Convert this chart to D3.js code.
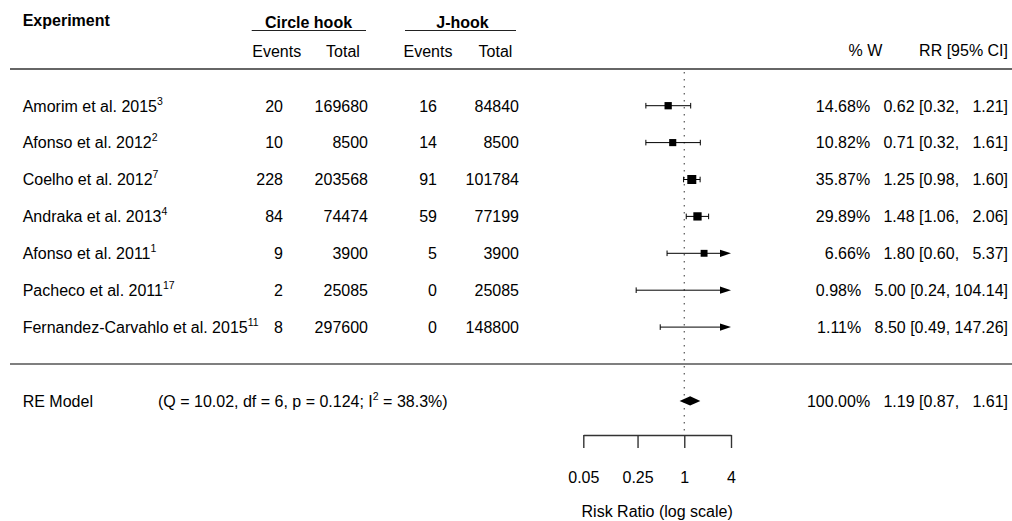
<!DOCTYPE html>
<html>
<head>
<meta charset="utf-8">
<script src="https://cdn.jsdelivr.net/npm/d3@7"></script>
<style>
  body { margin: 0; background: #fff; }
  svg text { font-family: "Liberation Sans", Arial, sans-serif; font-size: 16px; fill: #000; white-space: pre; }
</style>
</head>
<body>
<div id="forest"></div>
<script>
// svg container
var svgWidth = 1012;
var svgHeight = 521;

// study data (top to bottom)
var studies = ["Amorim et al. 2015", "Afonso et al. 2012", "Coelho et al. 2012", "Andraka et al. 2013",
               "Afonso et al. 2011", "Pacheco et al. 2011", "Fernandez-Carvahlo et al. 2015"];
var refs = ["3", "2", "7", "4", "1", "17", "11"];
var circleEvents = [20, 10, 228, 84, 9, 2, 8];
var circleTotal = [169680, 8500, 203568, 74474, 3900, 25085, 297600];
var jEvents = [16, 14, 91, 59, 5, 0, 0];
var jTotal = [84840, 8500, 101784, 77199, 3900, 25085, 148800];
var weights = [14.68, 10.82, 35.87, 29.89, 6.66, 0.98, 1.11];
var rr = [0.62, 0.71, 1.25, 1.48, 1.80, 5.00, 8.50];
var ciLow = [0.32, 0.32, 0.98, 1.06, 0.60, 0.24, 0.49];
var ciHigh = [1.21, 1.61, 1.60, 2.06, 5.37, 104.14, 147.26];

// random effects summary
var reEst = 1.19, reLow = 0.87, reHigh = 1.61, reWeight = 100;
var reQ = "10.02", reDf = "6", reP = "0.124", reI2 = "38.3";

var tickVals = [0.05, 0.25, 1, 4];

var svg = d3.select("#forest")
  .append("svg")
  .attr("width", svgWidth)
  .attr("height", svgHeight);

// scales
var xScale = d3.scaleLog()
  .domain([0.05, 4])
  .range([583.3, 731]);

// metafor-style row numbers: 7..1 for studies, -1 for the summary
var yScale = d3.scaleLinear()
  .domain([7, -1])
  .range([105.7, 400.9]);

var k = studies.length;
var rowOf = function(i) { return k - i; };
var base = 5.8; // text baseline offset from row centre

/////////////// HEADERS /////////////////
svg.append("text").attr("x", 22.7).attr("y", 25.5)
  .style("font-weight", "bold").text("Experiment");

svg.append("text").attr("x", 308.5).attr("y", 28.3).attr("text-anchor", "middle")
  .style("font-weight", "bold").text("Circle hook");
svg.append("text").attr("x", 462.5).attr("y", 28.3).attr("text-anchor", "middle")
  .style("font-weight", "bold").text("J-hook");

svg.append("line").attr("x1", 251.7).attr("x2", 366).attr("y1", 30.5).attr("y2", 30.5)
  .attr("stroke", "#222").attr("stroke-width", 1.2);
svg.append("line").attr("x1", 405).attr("x2", 516).attr("y1", 30.5).attr("y2", 30.5)
  .attr("stroke", "#222").attr("stroke-width", 1.2);

var subHeads = [["Events", 276.7], ["Total", 343], ["Events", 428], ["Total", 495.5]];
subHeads.forEach(function(h) {
  svg.append("text").attr("x", h[1]).attr("y", 56.5).attr("text-anchor", "middle").text(h[0]);
});

svg.append("text").attr("x", 882.3).attr("y", 55.5).attr("text-anchor", "end").text("% W");
svg.append("text").attr("x", 1008).attr("y", 55.5).attr("text-anchor", "end").text("RR [95% CI]");

// separator lines
svg.append("line").attr("x1", 10).attr("x2", svgWidth).attr("y1", 69).attr("y2", 69)
  .attr("stroke", "#333").attr("stroke-width", 1.7);
svg.append("line").attr("x1", 10).attr("x2", svgWidth).attr("y1", yScale(0)).attr("y2", yScale(0))
  .attr("stroke", "#555").attr("stroke-width", 1.7);

// reference line at RR = 1
svg.append("line")
  .attr("x1", xScale(1)).attr("x2", xScale(1))
  .attr("y1", 72).attr("y2", 435)
  .attr("stroke", "#555").attr("stroke-width", 1.2)
  .attr("stroke-dasharray", "1.5,5.5");

/////////////// STUDY ROWS /////////////////
var rows = svg.selectAll("g.study")
  .data(studies)
  .enter()
  .append("g")
  .attr("class", "study");

var labels = rows.append("text")
  .attr("x", 22.7)
  .attr("y", function(d, i) { return yScale(rowOf(i)) + base; });
labels.append("tspan").text(function(d) { return d; });
labels.append("tspan")
  .attr("dy", -7)
  .style("font-size", "10.5px")
  .text(function(d, i) { return refs[i]; });

var cols = [[circleEvents, 283], [circleTotal, 368], [jEvents, 437], [jTotal, 519]];
cols.forEach(function(c) {
  rows.append("text")
    .attr("x", c[1])
    .attr("y", function(d, i) { return yScale(rowOf(i)) + base; })
    .attr("text-anchor", "end")
    .text(function(d, i) { return c[0][i]; });
});

// annotations formatted like metafor (padded, right-aligned)
function pad(arr, extra) {
  var s = arr.concat(extra).map(function(v) { return v.toFixed(2); });
  var w = d3.max(s, function(t) { return t.length; });
  return function(v) { var t = v.toFixed(2); while (t.length < w) t = " " + t; return t; };
}
var fW = pad(weights, []);
var fE = pad(rr, [reEst]);
var fL = pad(ciLow, [reLow]);
var fU = pad(ciHigh, [reHigh]);

function annot(w, e, l, u) {
  return fW(w) + "%   " + fE(e) + " [" + fL(l) + ", " + fU(u) + "]";
}

rows.append("text")
  .attr("x", 1008)
  .attr("y", function(d, i) { return yScale(rowOf(i)) + base; })
  .attr("text-anchor", "end")
  .attr("xml:space", "preserve")
  .text(function(d, i) { return annot(weights[i], rr[i], ciLow[i], ciHigh[i]); });

// box sizes from precision (1/se), as metafor does
var se = rr.map(function(d, i) { return (Math.log(ciHigh[i]) - Math.log(ciLow[i])) / (2 * 1.96); });
var prec = se.map(function(s) { return 1 / s; });
var boxScale = d3.scaleLinear().domain(d3.extent(prec)).range([6.5, 9]);

var xMin = xScale.domain()[0], xMax = xScale.domain()[1];
var arrowLen = 11, arrowHalf = 3.6, capHalf = 2.8;

rows.each(function(d, i) {
  var g = d3.select(this);
  var y = yScale(rowOf(i));
  var lo = Math.max(ciLow[i], xMin), hi = Math.min(ciHigh[i], xMax);
  var x1 = xScale(lo), x2 = xScale(hi);
  var lineX1 = ciLow[i] < xMin ? x1 + arrowLen : x1;
  var lineX2 = ciHigh[i] > xMax ? x2 - arrowLen : x2;

  g.append("line").attr("x1", lineX1).attr("x2", lineX2).attr("y1", y).attr("y2", y)
    .attr("stroke", "#000").attr("stroke-width", 1);

  if (ciLow[i] >= xMin) {
    g.append("line").attr("x1", x1).attr("x2", x1).attr("y1", y - capHalf).attr("y2", y + capHalf)
      .attr("stroke", "#000").attr("stroke-width", 1);
  } else {
    g.append("path").attr("d", "M" + x1 + "," + y + "L" + (x1 + arrowLen) + "," + (y - arrowHalf) +
      "L" + (x1 + arrowLen) + "," + (y + arrowHalf) + "Z").attr("fill", "#000");
  }
  if (ciHigh[i] <= xMax) {
    g.append("line").attr("x1", x2).attr("x2", x2).attr("y1", y - capHalf).attr("y2", y + capHalf)
      .attr("stroke", "#000").attr("stroke-width", 1);
  } else {
    g.append("path").attr("d", "M" + x2 + "," + y + "L" + (x2 - arrowLen) + "," + (y - arrowHalf) +
      "L" + (x2 - arrowLen) + "," + (y + arrowHalf) + "Z").attr("fill", "#000");
  }

  // point estimate (only drawn inside the axis limits)
  if (rr[i] >= xMin && rr[i] <= xMax) {
    var s = boxScale(prec[i]);
    g.append("rect")
      .attr("x", xScale(rr[i]) - s / 2)
      .attr("y", y - s / 2)
      .attr("width", s)
      .attr("height", s)
      .attr("fill", "#000");
  }
});

/////////////// SUMMARY ROW /////////////////
var yRE = yScale(-1);
svg.append("text").attr("x", 22.7).attr("y", yRE + base).text("RE Model");

var stat = svg.append("text").attr("x", 158).attr("y", yRE + base).attr("xml:space", "preserve");
stat.append("tspan").text("(Q = " + reQ + ", df = " + reDf + ", p = " + reP + "; I");
stat.append("tspan").attr("dy", -7).style("font-size", "10.5px").text("2");
stat.append("tspan").attr("dy", 7).text(" = " + reI2 + "%)");

svg.append("path")
  .attr("d", "M" + xScale(reLow) + "," + yRE +
             "L" + xScale(reEst) + "," + (yRE - 4.6) +
             "L" + xScale(reHigh) + "," + yRE +
             "L" + xScale(reEst) + "," + (yRE + 4.6) + "Z")
  .attr("fill", "#000");

svg.append("text")
  .attr("x", 1008).attr("y", yRE + base)
  .attr("text-anchor", "end")
  .attr("xml:space", "preserve")
  .text(reWeight.toFixed(2) + "%   " + fE(reEst) + " [" + fL(reLow) + ", " + fU(reHigh) + "]");

/////////////// AXIS /////////////////
var xAxis = d3.axisBottom(xScale)
  .tickValues(tickVals)
  .tickFormat(function(d) { return String(d); })
  .tickSize(13)
  .tickSizeOuter(0)
  .tickPadding(23.5);

var axisG = svg.append("g")
  .attr("transform", "translate(0, 435)")
  .call(xAxis);

axisG.select(".domain").attr("stroke", "#333").attr("stroke-width", 1.4);
axisG.selectAll(".tick line").attr("stroke", "#333").attr("stroke-width", 1.4);
axisG.selectAll(".tick text")
  .style("font-family", "'Liberation Sans', Arial, sans-serif")
  .style("font-size", "16px")
  .attr("fill", "#000");

svg.append("text")
  .attr("x", (xScale.range()[0] + xScale.range()[1]) / 2)
  .attr("y", 517)
  .attr("text-anchor", "middle")
  .text("Risk Ratio (log scale)");
</script>
</body>
</html>
